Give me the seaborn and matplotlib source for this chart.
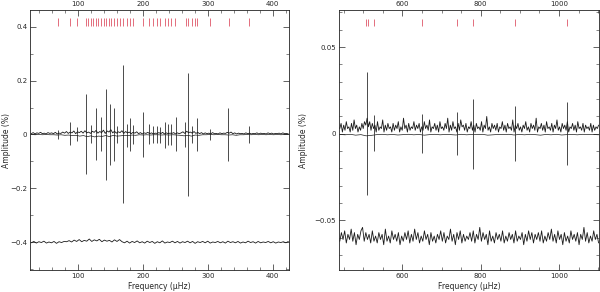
import numpy as np
import seaborn as sns
import matplotlib.pyplot as plt
from matplotlib.ticker import MultipleLocator, FuncFormatter

# ---------------- low-frequency panel (uHz, amplitude in %) ----------------
left_modes = [68.7, 88.1, 98, 112.3, 115, 119.6, 123.6, 127.3, 131.3, 135.4,
              139.6, 143.2, 147.3, 151.3, 155.9, 159.6, 165.2, 169.8, 175.5,
              180.1, 185.2, 200.6, 209.9, 215.6, 221.3, 226.8, 234.1, 238.2,
              243.3, 250, 266, 269.1, 275.2, 279.9, 283.9, 303.9, 332.2, 363]
left_peak_freq = [69, 88, 98, 112.8, 119.6, 127.3, 135.4, 143.6, 149.8, 155.5,
                  159.6, 168.9, 175.5, 180.6, 185.2, 200.2, 209.9, 215.6, 221.3,
                  226.8, 234, 238.2, 243, 250.6, 265, 270, 275.2, 284, 303.9,
                  331.6, 363]
left_obs_amp = [0.016, 0.046, 0.028, 0.149, 0.034, 0.097, 0.065, 0.168, 0.115,
                0.099, 0.03, 0.258, 0.04, 0.063, 0.035, 0.082, 0.038, 0.03,
                0.03, 0.028, 0.046, 0.038, 0.038, 0.066, 0.045, 0.229, 0.03,
                0.06, 0.02, 0.099, 0.03]
left_fit_amp = [0.015, 0.04, 0.025, 0.145, 0.03, 0.095, 0.06, 0.17, 0.114,
                0.099, 0.03, 0.254, 0.045, 0.062, 0.035, 0.084, 0.035, 0.03,
                0.03, 0.03, 0.05, 0.04, 0.04, 0.062, 0.045, 0.229, 0.03,
                0.062, 0.02, 0.099, 0.03]
# noise floor of the observed spectrum, units of 0.001 %
left_obs_noise = [3, 7, 2, 6, 4, 8, 3, 5, 2, 7, 4, 6, 3, 8, 2, 5, 4, 9,
                  5, 11, 4, 9, 6, 13, 3, 10, 7, 12, 5, 14, 6, 9, 4, 12, 8, 15, 5, 11, 7, 16,
                  4, 13, 9, 18, 6, 12, 5, 10, 7, 14, 4, 11, 6, 9, 3, 8, 5, 10,
                  3, 7, 2, 6, 4, 8, 3, 6, 2, 5, 4, 7, 3, 8, 2, 6, 3, 5, 4, 7, 2, 6, 3,
                  6, 10, 4, 12, 7, 9, 5, 11, 4, 8, 3, 7,
                  2, 6, 3, 5, 2, 7, 3, 4, 2, 6, 3, 5, 4, 8, 5, 9, 3, 6, 2, 5, 3, 4, 2, 6,
                  3, 5, 2, 4, 3, 6, 2, 5, 3, 4, 2, 6, 3, 5, 2, 4, 3, 5, 2, 6, 3, 4, 2]
# side lobes of the fitted spectrum (drawn downward), units of 0.001 %
left_fit_side = [0, 1, 0, 1, 0, 1, 1, 2, 1, 3, 2, 4, 3, 6, 4, 8, 5, 9, 6, 7, 4, 8,
                 3, 6, 5, 3, 4, 2, 3, 1, 2, 1, 2, 1, 1, 2, 1, 2, 1, 2, 3, 5, 3, 6,
                 2, 3, 1, 1, 0, 1, 0, 1, 1, 2, 1, 3, 1, 1, 0, 1, 0, 1, 0, 1, 0, 1,
                 0, 1, 0, 0]
# residuals (shifted to -0.4), units of 0.001 %
left_resid = [-2, 3, -3, 2, -1, 4, -3, 1, -2, 3, -4, 2, -1, 3,
              2, 6, 1, 8, 3, 10, 2, 7, 4, 12, 3, 9, 5, 11, 2, 8, 4, 7, 1, 9, 3, 10, 2,
              -2, 4, -3, 3, -1, 5, -2, 2, -3, 4, -1, 3, -4, 2, -2, 5, -3, 1, -1, 4,
              -2, 3, -3, 2, -1, 4, -2, 3, -4, 2, -1, 3, -2, 4, -3, 1, -1, 3, -2, 2,
              -3, 4, -1, 2, -2, 3, -3, 1, -2, 4, -1, 2, -3, 3, -2, 1, -1, 3, -2, 2,
              -3, 1, -1, 2, -2, 3]
left_offset = -0.4

# ---------------- high-frequency panel ----------------
right_modes = [507, 511, 528.5, 651, 740.5, 781.3, 888.6, 1021.4]
right_peak_freq = [509, 528.5, 651, 740.5, 781.3, 888.6, 1021.4]
right_obs_amp = [0.0354, 0.011, 0.0115, 0.0125, 0.0203, 0.0163, 0.0184]
right_fit_amp = [0.0355, 0.0097, 0.011, 0.0122, 0.0203, 0.0159, 0.018]
right_obs_noise = [3, 6, 1, 5, 2, 7, 3, 4, 1, 6, 2, 8, 3, 5, 1, 4, 2, 6, 3, 7,
                   5, 9, 4, 7, 2, 6, 3, 5, 1, 7, 2, 4, 3, 8, 1, 5, 2, 6, 3, 4,
                   1, 6, 2, 5, 3, 7, 1, 4, 2, 9, 3, 5, 1, 6, 2, 4, 3, 7, 2, 5,
                   3, 6, 1, 4, 2, 7, 3, 5, 2, 8, 1, 4, 3, 6, 2, 5, 1, 7, 3, 4,
                   2, 6, 3, 9, 1, 5, 2, 7, 3, 4, 1, 6, 2, 8, 4, 5, 2, 6, 1, 4,
                   3, 7, 2, 5, 1, 6, 3, 4, 2, 7, 1, 5, 3, 10, 2, 4, 1, 6, 3, 5,
                   2, 6, 1, 4, 3, 7, 2, 5, 1, 6, 3, 4, 2, 8, 1, 5, 3, 6, 2, 4,
                   1, 5, 3, 7, 2, 4, 1, 6, 3, 5, 2, 9, 1, 4, 3, 6, 2, 5, 1, 7,
                   3, 4, 2, 6, 1, 5, 3, 8, 2, 4, 1, 6, 3, 5, 2, 7, 1, 4, 3, 6,
                   2, 5, 1, 7, 3, 4, 2, 6, 1, 5, 3, 4, 2, 6, 1, 5, 2, 4, 3, 5]
# units of 0.0001 %
right_fit_side = [4, 6, 3, 8, 5, 12, 9, 5, 3, 6, 4, 7, 5, 3, 6, 4, 8, 5, 3, 6,
                  4, 5, 7, 3, 6, 4, 5, 3, 8, 6, 4, 5, 3, 7, 4, 6, 3, 5, 8, 4,
                  6, 3, 7, 5, 4, 6, 3, 5, 4, 6]
right_resid = [-2, 3, -1, 4, -3, 2, -1, 5, -2, 3, -4, 2, -1, 4, 6, -2, 3, -1, 2, -3,
               4, -2, 1, -3, 3, -1, 2, -4, 5, -2, 1, -3, 4, -1, 2, -2, 3, -4, 1, -2,
               3, -1, 4, -3, 2, -2, 5, -1, 3, -3, 1, -2, 4, -1, 2, -4, 3, -2, 1, -3,
               2, -1, 4, -2, 3, -3, 1, -1, 5, -2, 2, -4, 3, -1, 4, -3, 2, -2, 1, -1,
               3, -2, 4, -3, 2, -1, 6, -2, 3, -1, 2, -4, 4, -2, 1, -3, 3, -1, 2, -2,
               4, -3, 1, -2, 3, -1, 2, -3, 4, -2, 1, -1, 3, -4, 2, -2, 4, -1, 3, -3,
               2, -1, 3, -2, 4, -3, 1, -2, 3, -1, 5, -2, 2, -3, 4, -1, 2, -4, 3, -2,
               1, -3, 4, -1, 2, -2, 3, -4, 2, -1, 6, -2, 3, -3, 1, -2, 4, -1, 2, -3]
right_offset = -0.06

RED = "#d8344a"

sns.set_theme(style="ticks")
plt.rcParams.update({
    "font.family": ["DejaVu Sans"],
    "font.size": 5,
    "xtick.labelsize": 5, "ytick.labelsize": 5, "axes.labelsize": 5.5,
    "axes.linewidth": 0.6,
    "axes.edgecolor": "#222222",
    "xtick.major.width": 0.5, "ytick.major.width": 0.5,
    "xtick.minor.width": 0.4, "ytick.minor.width": 0.4,
    "xtick.major.size": 4, "ytick.major.size": 4,
    "xtick.minor.size": 2, "ytick.minor.size": 2,
    "xtick.direction": "in", "ytick.direction": "in",
    "xtick.major.pad": 2, "ytick.major.pad": 2,
})

fig = plt.figure(figsize=(6, 2.92), dpi=100)
ax1 = fig.add_axes([0.05, 0.0753, 0.4317, 0.8904])
ax2 = fig.add_axes([0.565, 0.0753, 0.4333, 0.8904])

fmt = FuncFormatter(lambda v, p: f"{v:g}".replace("-", "\u2212"))


def draw_panel(ax, xlim, ylim, modes, mode_y, peak_f, obs_amp, fit_amp,
               noise, noise_unit, side, side_unit, resid, resid_unit, offset):
    lo, hi = xlim
    f = np.linspace(lo + 2, hi - 1, len(noise))
    sns.lineplot(x=f, y=np.array(noise) * noise_unit, ax=ax, color="k", lw=0.6)
    f = np.linspace(lo + 2, hi - 1, len(side))
    sns.lineplot(x=f, y=-np.array(side) * side_unit, ax=ax, color="k", lw=0.5)
    f = np.linspace(lo + 2, hi - 1, len(resid))
    sns.lineplot(x=f, y=offset + np.array(resid) * resid_unit, ax=ax,
                 color="k", lw=0.6)
    ax.vlines(peak_f, 0, obs_amp, color="k", lw=0.55)
    ax.vlines(peak_f, 0, -np.array(fit_amp), color="k", lw=0.55)
    ax.vlines(modes, mode_y[0], mode_y[1], color=RED, lw=0.5)
    ax.set_xlim(xlim)
    ax.set_ylim(ylim)
    ax.yaxis.set_major_formatter(fmt)
    ax.tick_params(which="both", top=True, right=True, labeltop=True)
    ax.set_xlabel("Frequency (\u03bcHz)", labelpad=2)
    ax.set_ylabel("Amplitude (%)")


draw_panel(ax1, (26, 425), (-0.503, 0.462), left_modes, (0.402, 0.431),
           left_peak_freq, left_obs_amp, left_fit_amp,
           left_obs_noise, 0.001, left_fit_side, 0.001, left_resid, 0.001,
           left_offset)
ax1.xaxis.set_major_locator(MultipleLocator(100))
ax1.xaxis.set_minor_locator(MultipleLocator(20))
ax1.yaxis.set_major_locator(MultipleLocator(0.2))
ax1.yaxis.set_minor_locator(MultipleLocator(0.1))
ax1.yaxis.set_label_coords(-0.072, 0.5)

draw_panel(ax2, (438, 1102), (-0.0786, 0.0714), right_modes, (0.0622, 0.0663),
           right_peak_freq, right_obs_amp, right_fit_amp,
           right_obs_noise, 0.001, right_fit_side, 0.0001, right_resid, 0.001,
           right_offset)
ax2.xaxis.set_major_locator(MultipleLocator(200))
ax2.xaxis.set_minor_locator(MultipleLocator(50))
ax2.yaxis.set_major_locator(MultipleLocator(0.05))
ax2.yaxis.set_minor_locator(MultipleLocator(0.01))
ax2.yaxis.set_label_coords(-0.118, 0.5)

fig.savefig("out.png", dpi=100)
